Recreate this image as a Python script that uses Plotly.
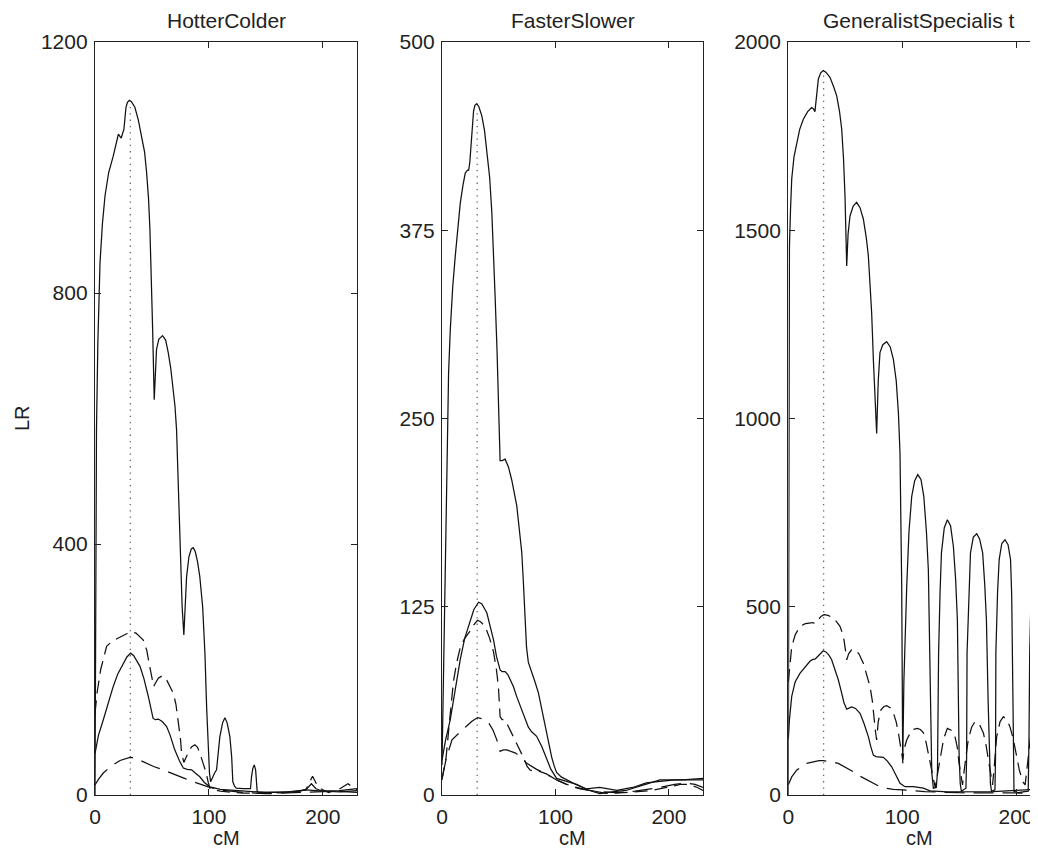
import plotly.graph_objects as go

# ---------------- data ----------------
# Panel 1: HotterColder
hc_main_x = [0, 0.5, 1.3, 2.5, 4.4, 6.5, 8.8, 12, 16, 20.5, 21.8, 23, 25.4, 27.2, 28.5, 30.1, 32, 35, 38, 41, 43.5, 45.3, 47, 48.2, 49.5, 50.6, 52, 53, 54, 56, 59.3, 62, 64.3, 66.5, 68.7, 70.2, 71.6, 73, 74.6, 76.5, 78, 79, 80.4, 82.5, 84.5, 86.3, 88, 90, 92, 94.5, 96.5, 98, 99.4, 100.5, 101.5, 103, 105, 106.7, 108, 109.6, 112, 114, 116, 118.4, 120, 121, 122.5, 124, 130, 136.5, 137.4, 138.5, 139.8, 141, 142.4, 145, 160, 180, 186, 190, 194, 200, 215, 230]
hc_main_y = [0, 300, 582, 720, 848, 910, 955, 992, 1018, 1053, 1050, 1047, 1061, 1096, 1104, 1107, 1105, 1096, 1076, 1050, 1025, 992, 950, 902, 830, 742, 630, 680, 710, 726, 732, 725, 705, 680, 646, 620, 582, 500, 386, 300, 255, 300, 348, 380, 392, 394, 388, 372, 348, 300, 226, 140, 66, 35, 21, 28, 35, 40, 60, 93, 115, 123, 115, 93, 60, 21, 14, 11, 10, 10, 29, 42, 48, 40, 5, 4, 4, 6, 10, 18, 10, 6, 7, 10]

hc_dash_x = [0, 2, 5, 10.2, 15, 20, 24, 27.8, 32, 36, 42.4, 45.5, 48, 50, 51.5, 53, 55.6, 59, 63, 66, 68.7, 71, 73, 75, 76, 78, 80, 83, 85, 87.7, 90, 92, 95, 97.5, 99.4, 101, 110, 130, 150, 170, 185, 191, 196, 205, 215, 222, 230]
hc_dash_y = [130, 165, 200, 237, 245, 250, 254, 257, 260, 258, 247, 230, 205, 185, 173, 178, 186, 190, 183, 172, 162, 145, 120, 90, 67, 52, 60, 72, 77, 80, 76, 67, 50, 36, 20, 10, 6, 3, 3, 4, 8, 30, 12, 4, 10, 18, 8]

hc_mid_x = [0, 3, 7.3, 12, 16, 20, 24.8, 28, 31.3, 34, 39.5, 43, 46.8, 49, 51, 53, 55.6, 59, 62.9, 66, 70, 74, 77.5, 81, 84.8, 88, 92, 96, 100.9, 110, 130, 150, 170, 185, 200, 215, 230]
hc_mid_y = [66, 95, 120, 150, 173, 193, 210, 220, 226, 222, 205, 185, 157, 138, 122, 120, 121, 117, 109, 95, 72, 55, 43, 41, 40, 35, 29, 20, 13, 9, 7, 4, 5, 8, 6, 5, 7]

hc_long_x = [0, 3, 7.3, 14, 22, 27, 30.7, 35, 44, 52, 60, 66, 71.6, 78, 86.3, 92, 99.4, 110, 130, 150, 170, 190, 210, 230]
hc_long_y = [16, 25, 35, 46, 55, 58, 60, 59, 51, 45, 40, 36, 32, 27, 21, 17, 13, 8, 4, 2, 3, 5, 6, 4]

# Panel 2: FasterSlower
fs_main_x = [0, 1.5, 3, 4.4, 5.8, 7.3, 9.5, 11.7, 14, 16.1, 18.5, 20.5, 22.5, 23.5, 24.5, 25.5, 27, 27.8, 29, 30.7, 32.5, 35.1, 37.5, 39.5, 42, 43.9, 45.5, 46.8, 48.5, 49.7, 50.3, 51.2, 53, 55.6, 58.5, 61.5, 65.9, 68, 70.3, 71.8, 73.2, 74.5, 76.1, 79, 82, 84.9, 88, 90.8, 94, 96.7, 99, 101, 105, 110, 118, 127, 139, 154, 168, 180, 192, 205, 215, 230]
fs_main_y = [20, 90, 170, 243, 280, 309, 338, 358, 378, 393, 405, 413, 415, 415, 420, 429, 447, 454, 458, 459, 457, 451, 441, 429, 410, 387, 360, 331, 295, 265, 249, 222, 222, 223, 218, 209, 192, 178, 161, 140, 116, 98, 88, 82, 75, 68, 57, 45, 34, 25, 19, 15, 12, 10, 7, 4, 5, 3, 5, 8, 9, 10, 10, 10]

fs_mid_x = [0, 3, 7.3, 11, 16.1, 20, 24.9, 28, 32.2, 35, 39.5, 42, 45.4, 48, 51.2, 53, 55.6, 58, 62.9, 66, 70.3, 73, 76.1, 79, 83.4, 88, 92.2, 96, 101, 110, 118.7, 130, 139, 150, 162, 175, 192, 212, 230]
fs_mid_y = [23, 36, 50, 68, 90, 104, 116, 123, 128, 127, 121, 114, 103, 92, 83, 82, 82, 80, 72, 65, 57, 51, 45, 42, 39, 32, 24, 17, 11, 9, 7, 3, 1, 2, 3, 6, 10, 10, 11]

fs_dash_x = [0, 3.6, 7, 10.2, 13, 16.1, 20, 24.9, 28, 31.3, 34, 38, 42, 45.4, 48, 49.7, 51.2, 53, 55.6, 60, 64.4, 68, 71.7, 75, 77.6, 80, 85, 92, 101, 110, 118.7, 130, 145, 168, 185, 198, 210, 218, 225, 230]
fs_dash_y = [10, 25, 52, 76, 88, 98, 104, 109, 113, 116, 115, 112, 104, 95, 83, 72, 52, 50, 50, 43, 37, 31, 25, 19, 16.6, 16, 16, 14, 10, 7, 5, 3, 1, 2, 3, 5, 7, 7, 5, 3]

fs_long_x = [0, 4, 8.8, 13, 17.6, 22, 26.4, 31.3, 36, 41, 45, 48.3, 51.2, 54, 57, 64.4, 70, 74.7, 83.4, 92, 101, 110, 121.6, 135, 154, 170, 192, 205, 215, 223, 230]
fs_long_y = [11, 25, 36.6, 40, 43, 46, 49, 51.4, 50.5, 48, 43, 36.6, 29, 30, 30, 28, 25, 21, 17, 14, 10, 7, 4, 2.5, 1.5, 2.5, 5, 7, 8, 7, 5]

# Panel 3: GeneralistSpecialist
gs_main_x = [0, 0.5, 1, 2, 3, 5, 7.3, 10, 13.2, 17, 20.5, 22, 23.4, 24.5, 26.4, 28.5, 30.7, 33, 36.6, 40, 42.5, 45, 46.9, 48.5, 49.8, 51.3, 52.5, 54.2, 57, 60, 63, 65.9, 68.5, 70.3, 72, 73.2, 74.8, 76.1, 77.6, 79, 80.5, 83, 86.4, 89.5, 92.3, 94.8, 96.7, 98.1, 99.6, 100.5, 101.5, 104, 106, 108.4, 111, 113.7, 116.5, 119, 121.3, 123, 124, 125, 126, 127.4, 130, 131, 132, 133.3, 134.5, 137, 139.7, 142.5, 145, 147, 148.5, 149.4, 150, 151, 152, 156, 156.6, 157, 158.5, 160, 162.5, 165.5, 168, 170.7, 172.5, 174, 175.5, 176.5, 177.5, 178.5, 181.5, 182, 182.3, 183.8, 185.2, 187.5, 190.3, 193, 195.2, 196.2, 197, 197.7, 198.2, 202, 206, 210.7, 211.4, 212, 213.5, 215, 216.7, 218.5, 220, 222, 226, 230]
gs_main_y = [0, 900, 1458, 1560, 1636, 1695, 1733, 1768, 1795, 1815, 1826, 1823, 1815, 1850, 1902, 1918, 1924, 1920, 1906, 1880, 1857, 1815, 1769, 1690, 1591, 1405, 1490, 1538, 1564, 1574, 1560, 1530, 1480, 1432, 1360, 1281, 1150, 1060, 960, 1100, 1175, 1196, 1204, 1190, 1157, 1100, 1015, 909, 554, 84, 300, 554, 700, 793, 835, 851, 838, 793, 700, 598, 420, 200, 60, 18, 20, 60, 377, 540, 643, 710, 731, 715, 660, 570, 465, 250, 110, 30, 10, 18, 100, 377, 540, 643, 685, 694, 680, 643, 560, 465, 250, 110, 30, 10, 14, 100, 377, 540, 625, 668, 678, 665, 625, 530, 377, 150, 10, 6, 8, 10, 150, 377, 572, 590, 594, 590, 575, 540, 350, 0]

gs_dash_x = [0, 1, 3, 6, 10.2, 15, 19, 21.5, 23.4, 24.5, 26.4, 29, 31.4, 35, 39.5, 42.5, 45.4, 47.5, 48.9, 50.2, 51.3, 53, 55.7, 58.6, 62, 65.9, 68.5, 71.8, 73.8, 75.3, 76.5, 77.6, 79, 81.4, 84, 86.4, 89.5, 92.3, 94.7, 96.7, 98.8, 100.5, 102, 104, 108.4, 113.4, 116, 118.7, 121, 123, 126, 129, 131, 133.2, 136.5, 139.7, 143, 146.4, 148.5, 150, 153, 155.5, 158, 161, 164, 167.5, 171.3, 173.5, 175.7, 179.4, 181, 183, 186, 188.9, 192, 194.7, 197.5, 200, 203, 206, 208, 210, 212.5, 215, 217.5, 220, 225, 230]
gs_dash_y = [300, 340, 394, 425, 448, 455, 458, 458, 455, 460, 466, 475, 479, 477, 470, 460, 448, 430, 412, 385, 359, 375, 386, 386, 375, 350, 322, 288, 250, 200, 170, 146, 195, 226, 235, 237, 232, 218, 195, 165, 130, 93, 125, 146, 173, 177, 174, 165, 140, 110, 57, 20, 55, 93, 150, 177, 172, 155, 125, 84, 27, 90, 146, 180, 195, 190, 165, 135, 93, 27, 80, 155, 195, 208, 200, 181, 150, 110, 65, 35, 27, 80, 150, 190, 195, 190, 150, 100]

gs_mid_x = [0, 1, 3, 6, 10.2, 15, 19, 21.5, 23.4, 24.5, 26.4, 28.5, 30.7, 33, 35.5, 38, 41, 43.9, 46.5, 48.9, 51.3, 53, 55.7, 59, 63, 66.5, 70.3, 72.5, 74.7, 77, 79, 83.5, 87, 90.8, 95, 98.1, 102.5, 110, 118.6, 124.5, 140, 160, 180, 200, 215, 230]
gs_mid_y = [150, 200, 262, 300, 323, 342, 355, 360, 361, 364, 370, 378, 383, 380, 372, 360, 335, 306, 275, 245, 228, 231, 234, 230, 217, 190, 155, 128, 106, 102, 101, 100, 90, 75, 50, 31, 22, 22, 18, 11, 8, 8, 9, 12, 15, 15]

gs_long_x = [0, 3, 7.3, 12, 16, 22, 27, 30.7, 35, 40, 43.9, 50, 57, 63, 68.8, 75, 80.5, 86, 92.3, 104, 120, 150, 180, 210, 230]
gs_long_y = [27, 48, 66, 77, 84, 88, 91, 91, 90, 87, 84, 74, 62, 50, 40, 30, 22, 18, 15, 13, 9, 6, 5, 5, 5]

# marker (dotted vertical line) position and height per panel
marker_cm = [31, 31, 31]
marker_top = [1100, 455, 1915]

titles = ["HotterColder", "FasterSlower", "GeneralistSpecialis t"]
x_ranges = [[0, 230], [0, 230], [0, 219.3]]
y_ranges = [[0, 1200], [0, 500], [0, 2000]]
y_ticks = [[0, 400, 800, 1200], [0, 125, 250, 375, 500], [0, 500, 1000, 1500, 2000]]
x_ticks = [0, 100, 200]

# ---------------- figure ----------------
OFF = 8  # page body margin
W, H = 1038 - OFF, 848 - OFF


def fx(px):
    return (px - OFF) / W


def fy(py):
    return 1 - (py - OFF) / H


x_dom = [[fx(95), fx(357)], [fx(442), fx(703)], [fx(788.3), 1.0]]
y_dom = [fy(795), fy(42)]
centers = [fx((95 + 357) / 2), fx((442 + 703) / 2), fx((788.3 + 1050) / 2)]

FONT = "Liberation Sans, Arial, Helvetica, sans-serif"
LC = "#111111"
TC = "#222222"
DASH = "13px,7px"
LDASH = "20px,9px"

panels = [
    [(hc_main_x, hc_main_y, "solid"), (hc_mid_x, hc_mid_y, "solid"),
     (hc_dash_x, hc_dash_y, DASH), (hc_long_x, hc_long_y, LDASH)],
    [(fs_main_x, fs_main_y, "solid"), (fs_mid_x, fs_mid_y, "solid"),
     (fs_dash_x, fs_dash_y, DASH), (fs_long_x, fs_long_y, LDASH)],
    [(gs_main_x, gs_main_y, "solid"), (gs_mid_x, gs_mid_y, "solid"),
     (gs_dash_x, gs_dash_y, DASH), (gs_long_x, gs_long_y, LDASH)],
]

fig = go.Figure()
for i, series in enumerate(panels):
    xa = "x" if i == 0 else f"x{i+1}"
    ya = "y" if i == 0 else f"y{i+1}"
    fig.add_trace(go.Scatter(x=[marker_cm[i], marker_cm[i]], y=[0, marker_top[i]],
                             mode="lines", xaxis=xa, yaxis=ya, showlegend=False,
                             line=dict(color="#666666", width=1.3, dash="1.3px,5px")))
    for (sx, sy, dash) in series:
        fig.add_trace(go.Scatter(x=sx, y=sy, mode="lines", xaxis=xa, yaxis=ya,
                                 showlegend=False,
                                 line=dict(color=LC, width=1.25, dash=dash)))

axis_common = dict(showline=True, linecolor=TC, linewidth=1.4, ticks="inside",
                   ticklen=6, tickcolor=TC, tickwidth=1.2, showgrid=False,
                   zeroline=False, tickfont=dict(family=FONT, size=21, color=TC),
                   automargin=False, fixedrange=True)

layout = dict(width=W, height=H, margin=dict(l=0, r=0, t=0, b=0),
              paper_bgcolor="white", plot_bgcolor="white", showlegend=False)
for i in range(3):
    xk = "xaxis" if i == 0 else f"xaxis{i+1}"
    yk = "yaxis" if i == 0 else f"yaxis{i+1}"
    ya = "y" if i == 0 else f"y{i+1}"
    xa = "x" if i == 0 else f"x{i+1}"
    layout[xk] = dict(axis_common, domain=x_dom[i], range=x_ranges[i], tickvals=x_ticks,
                      anchor=ya, mirror="ticks", ticklabelstandoff=3)
    layout[yk] = dict(axis_common, domain=y_dom, range=y_ranges[i], tickvals=y_ticks[i],
                      anchor=xa, mirror=("ticks" if i < 2 else False), ticklabelstandoff=2)
fig.update_layout(**layout)

ann = []
for i in range(3):
    ann.append(dict(text=titles[i], x=centers[i], y=fy(21), xref="paper", yref="paper",
                    showarrow=False, xanchor="center", yanchor="middle",
                    font=dict(family=FONT, size=21, color=TC)))
    ann.append(dict(text="cM", x=centers[i], y=fy(838), xref="paper", yref="paper",
                    showarrow=False, xanchor="center", yanchor="middle",
                    font=dict(family=FONT, size=20, color=TC)))
ann.append(dict(text="LR", x=fx(22), y=fy(418), xref="paper", yref="paper",
                showarrow=False, xanchor="center", yanchor="middle", textangle=-90,
                font=dict(family=FONT, size=20, color=TC)))
fig.update_layout(annotations=ann)

fig.write_html("out.html")
